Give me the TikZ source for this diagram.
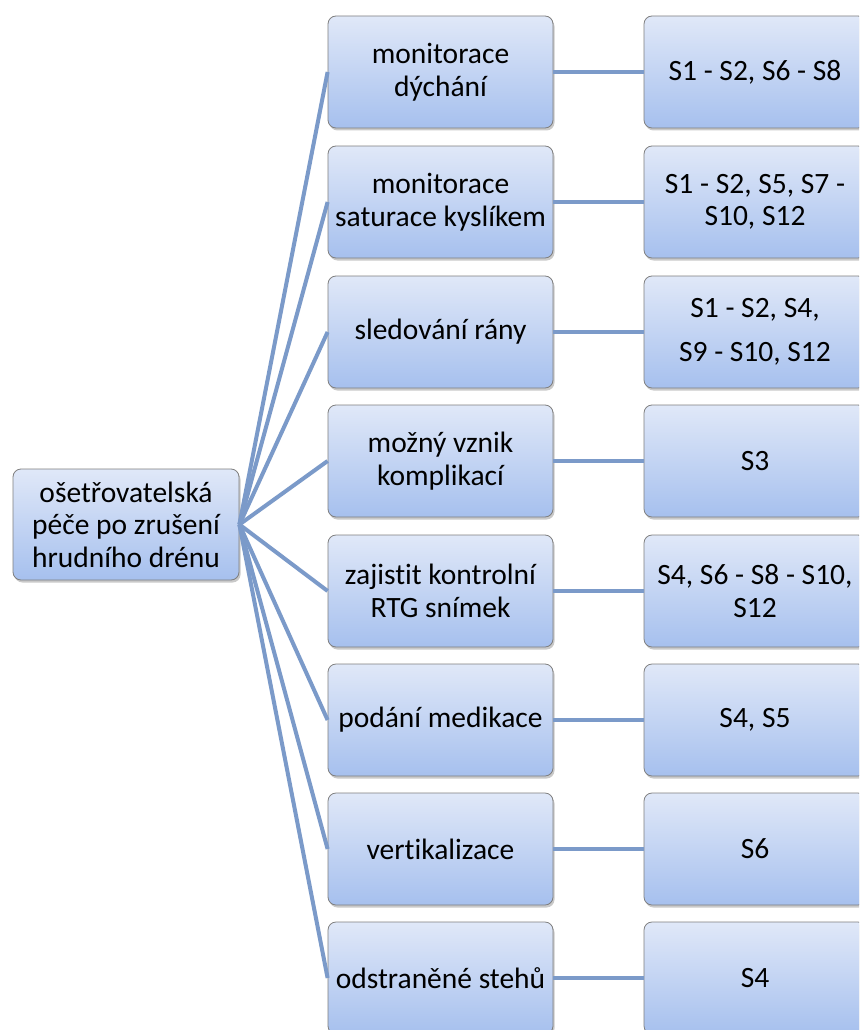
\documentclass[tikz,border=0pt]{standalone}
\usepackage{fontspec}
\setmainfont[Ligatures=NoCommon]{Carlito}
\usetikzlibrary{shadows}
\definecolor{linec}{HTML}{7B9AC9}
\definecolor{topc}{HTML}{E0E8F8}
\definecolor{botc}{HTML}{A6C0EE}
\definecolor{edgec}{HTML}{7F7F7F}
\begin{document}
\begin{tikzpicture}[x=1pt,y=-1pt,
  box/.style={draw=edgec, line width=0.8pt, rounded corners=8pt,
    top color=topc, bottom color=botc, align=center,
    font=\fontsize{29.5}{32.5}\selectfont, inner sep=0pt,
    drop shadow={shadow xshift=1.5pt, shadow yshift=-2.5pt, opacity=0.35, fill=black!60}},
  midbox/.style={box, minimum width=225pt, minimum height=112pt},
  rightbox/.style={box, minimum width=222pt, minimum height=112pt},
  link/.style={draw=linec, line width=4pt}]
\useasboundingbox (0,0) rectangle (859,1030);
\clip (0,0) rectangle (859,1030);
\fill[white] (0,0) rectangle (859,1030);

\node[box, minimum width=226pt, minimum height=111pt] (root) at (126,524.5)
  {ošetřovatelská\\péče po zrušení\\hrudního drénu};

\node[midbox] (m1) at (440.5,72)   {monitorace\\dýchání};
\node[midbox] (m2) at (440.5,202)  {monitorace\\saturace kyslíkem};
\node[midbox] (m3) at (440.5,332)  {sledování rány};
\node[midbox] (m4) at (440.5,461)  {možný vznik\\komplikací};
\node[midbox] (m5) at (440.5,591)  {zajistit kontrolní\\RTG snímek};
\node[midbox] (m6) at (440.5,720)  {podání medikace};
\node[midbox] (m7) at (440.5,849)  {vertikalizace};
\node[midbox] (m8) at (440.5,978)  {odstraněné stehů};

\node[rightbox] (r1) at (755,72)   {S1 - S2, S6 - S8};
\node[rightbox] (r2) at (755,202)  {S1 - S2, S5, S7 -\\S10, S12};
\node[rightbox] (r3) at (755,332)  {S1 - S2, S4,\\[12pt]S9 - S10, S12};
\node[rightbox] (r4) at (755,461)  {S3};
\node[rightbox] (r5) at (755,591)  {S4, S6 - S8 - S10,\\S12};
\node[rightbox] (r6) at (755,720)  {S4, S5};
\node[rightbox] (r7) at (755,849)  {S6};
\node[rightbox] (r8) at (755,978)  {S4};

\foreach \i in {1,...,8}{
  \draw[link] (root.east) -- (m\i.west);
  \draw[link] (m\i.east) -- (r\i.west);
}
\end{tikzpicture}
\end{document}
